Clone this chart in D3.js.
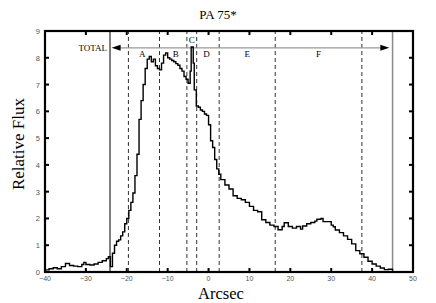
<!DOCTYPE html>
<html>
<head>
<meta charset="utf-8">
<script src="https://cdn.jsdelivr.net/npm/d3@7"></script>
<style>
html,body{margin:0;padding:0;background:#fff;}
svg{display:block;}
</style>
</head>
<body>
<svg id="chart" width="436" height="303"></svg>
<script>
// ---- data ----
const arcsec = [-40,-39,-38,-37,-36,-35,-34,-33,-32,-31,-30.5,-30,-29,-28,-27,-26,-25,-24.5,-24,-23.5,-23,-22.5,-22,-21.5,-21,-20.5,-20,-19.5,-19,-18.5,-18,-17.5,-17,-16.5,-16,-15.5,-15,-14.5,-14,-13.5,-13,-12.5,-12,-11.5,-11,-10.5,-10,-9.5,-9,-8.5,-8,-7.5,-7,-6.5,-6,-5.5,-5,-4.5,-4.25,-3.75,-3.5,-3,-2.5,-2,-1.5,-1,-0.5,0,0.5,1,1.5,2,2.5,3,4,5,6,7,8,9,10,11,12,13,14,15,16,17,18,18.5,19.5,20.5,21.5,22.5,23,24,25,26,26.5,27.5,28,29,30,30.5,31,32,33,34,35,36,37,38,39,40,41,42,43,44,45];
const flux = [0.08,0.12,0.16,0.12,0.2,0.32,0.24,0.22,0.2,0.28,0.36,0.28,0.26,0.3,0.36,0.42,0.5,0.57,0.2,0.7,1.0,1.15,1.2,1.35,1.5,1.8,2.0,2.3,2.6,2.95,3.6,4.4,5.7,6.4,7.0,7.6,7.95,8.05,7.85,7.95,7.7,7.6,7.55,7.8,8.1,8.18,8.0,7.95,7.9,7.85,7.78,7.72,7.6,7.5,7.3,7.2,7.05,7.5,8.4,7.8,6.8,6.2,6.15,6.05,6.0,5.9,5.85,5.5,4.9,4.65,4.2,3.85,3.65,3.45,3.25,3.1,2.85,2.75,2.7,2.6,2.45,2.3,2.25,1.95,1.85,1.75,1.7,1.58,1.7,1.84,1.7,1.64,1.7,1.6,1.72,1.8,1.85,1.9,1.97,2.0,1.88,1.88,1.75,1.69,1.57,1.47,1.35,1.22,1.05,0.8,0.68,0.55,0.4,0.3,0.22,0.15,0.09,0.1,0.05];
const xTicks = [-40,-30,-20,-10,0,10,20,30,40,50];
const yTicks = [1,2,3,4,5,6,7,8,9];
const regionBounds = [-19.6,-12,-5.3,-2.9,2.6,16.3,37.5];
const regionLabels = ["A","B","C","D","E","F"];
const regionLabelX = [-16.2,-8,-4.1,-0.5,9.45,26.9];
const totalBounds = [-24.1,45];
const arrowSpan = [-23.7,44.2];
const arrowLevel = 8.37;

// ---- chart ----
const svg = d3.select("#chart");
const x = d3.scaleLinear().domain([-40,50]).range([45,413]);
const y = d3.scaleLinear().domain([0,9]).range([272,31]);
const serif = "'Liberation Serif','Times New Roman',serif";
const sans = "'Liberation Sans',Arial,sans-serif";

// titles
svg.append("text").attr("x",218).attr("y",19).attr("text-anchor","middle")
  .attr("font-family",serif).attr("font-size",13).text("PA 75*");
svg.append("text").attr("x",221).attr("y",299).attr("text-anchor","middle")
  .attr("font-family",serif).attr("font-size",16.5).text("Arcsec");
svg.append("text").attr("transform","translate(24,144) rotate(-90)").attr("text-anchor","middle")
  .attr("font-family",serif).attr("font-size",17).text("Relative Flux");

// region dashed lines
svg.append("g").selectAll("line").data(regionBounds).join("line")
  .attr("x1",d=>x(d)).attr("x2",d=>x(d)).attr("y1",y(0)).attr("y2",y(9))
  .attr("stroke","#333").attr("stroke-width",1).attr("stroke-dasharray","4,3");

// total lines
svg.append("line").attr("x1",x(totalBounds[0])).attr("x2",x(totalBounds[0]))
  .attr("y1",y(0)).attr("y2",y(9)).attr("stroke","#000").attr("stroke-width",1);
svg.append("line").attr("x1",x(totalBounds[1])).attr("x2",x(totalBounds[1]))
  .attr("y1",y(0)).attr("y2",y(9)).attr("stroke","#888").attr("stroke-width",1.5);

// arrow
const ay = y(arrowLevel);
svg.append("line").attr("x1",x(arrowSpan[0])+6).attr("x2",x(arrowSpan[1])-6)
  .attr("y1",ay).attr("y2",ay).attr("stroke","#999").attr("stroke-width",1.2);
const xl = x(arrowSpan[0]), xr = x(arrowSpan[1]);
svg.append("path").attr("d",`M${xl},${ay}L${xl+9},${ay-3}L${xl+9},${ay+3}Z`).attr("fill","#000");
svg.append("path").attr("d",`M${xr},${ay}L${xr-9},${ay-3}L${xr-9},${ay+3}Z`).attr("fill","#000");
svg.append("text").attr("x",x(totalBounds[0])-3).attr("y",ay+3).attr("text-anchor","end")
  .attr("font-family",serif).attr("font-size",9).text("TOTAL");

// region labels
svg.append("g").selectAll("text").data(regionLabels).join("text")
  .attr("x",(d,i)=>x(regionLabelX[i]))
  .attr("y",(d,i)=> d==="C" ? ay-4.5 : ay+9.5)
  .attr("text-anchor","middle").attr("font-family",serif).attr("font-size",9)
  .text(d=>d);

// data curve
const pts = arcsec.map((a,i)=>[a,flux[i]]);
svg.append("path").datum(pts)
  .attr("d",d3.line().x(d=>x(d[0])).y(d=>y(d[1])).curve(d3.curveStepAfter))
  .attr("fill","none").attr("stroke","#000").attr("stroke-width",1.4);

// frame ticks
const tk = svg.append("g").attr("stroke","#000").attr("stroke-width",2);
xTicks.slice(1,-1).forEach(t=>{
  tk.append("line").attr("x1",x(t)).attr("x2",x(t)).attr("y1",y(0)).attr("y2",y(0)-4);
  tk.append("line").attr("x1",x(t)).attr("x2",x(t)).attr("y1",y(9)).attr("y2",y(9)+4);
});
yTicks.slice(0,-1).forEach(t=>{
  tk.append("line").attr("x1",x(-40)).attr("x2",x(-40)+4).attr("y1",y(t)).attr("y2",y(t));
  tk.append("line").attr("x1",x(50)).attr("x2",x(50)-4).attr("y1",y(t)).attr("y2",y(t));
});
// frame
svg.append("rect").attr("x",x(-40)).attr("y",y(9)).attr("width",x(50)-x(-40)).attr("height",y(0)-y(9))
  .attr("fill","none").attr("stroke","#000").attr("stroke-width",2.2);

// tick labels
svg.append("g").selectAll("text").data(xTicks).join("text")
  .attr("x",d=>x(d)).attr("y",y(0)+8.5).attr("text-anchor","middle")
  .attr("font-family",sans).attr("font-size",7).attr("fill","#555")
  .text(d=>d<0 ? "\u2212"+Math.abs(d) : d);
svg.append("g").selectAll("text").data([0].concat(yTicks)).join("text")
  .attr("x",x(-40)-5).attr("y",d=>y(d)+3).attr("text-anchor","end")
  .attr("font-family",sans).attr("font-size",7.5).attr("fill","#555")
  .text(d=>d);
</script>
</body>
</html>
